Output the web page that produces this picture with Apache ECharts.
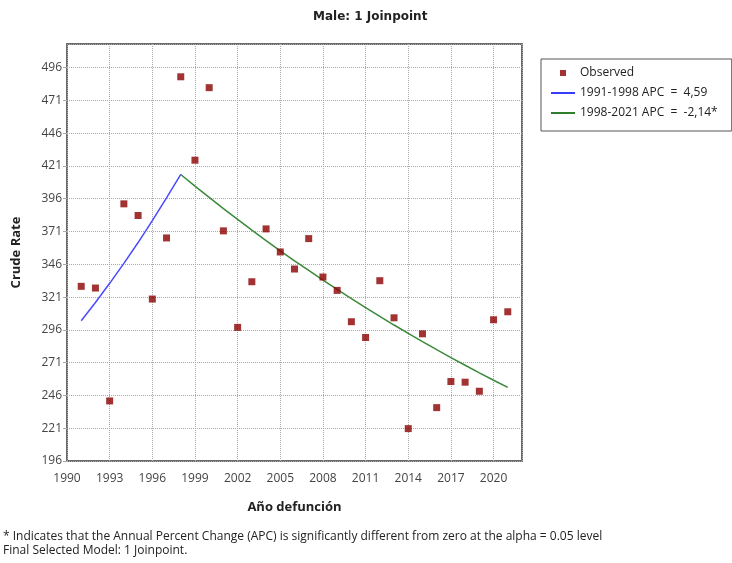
<!DOCTYPE html>
<html>
<head>
<meta charset="utf-8">
<script src="https://cdn.jsdelivr.net/npm/echarts@6/dist/echarts.min.js"></script>
<style>html,body{margin:0;padding:0;background:#fff}#c{width:732px;height:563px}</style>
</head>
<body>
<div id="c"></div>
<script>
// Observed crude rates by year
const years = [1991,1992,1993,1994,1995,1996,1997,1998,1999,2000,2001,2002,2003,2004,2005,2006,2007,2008,2009,2010,2011,2012,2013,2014,2015,2016,2017,2018,2019,2020,2021];
const observed = [329.2,327.9,241.8,392.1,383.2,319.5,366.1,489.0,425.4,480.7,371.5,297.9,332.7,373.0,355.4,342.4,365.6,336.3,326.1,302.2,290.2,333.5,305.2,220.7,293.0,236.7,256.6,256.1,249.2,303.7,309.8];
// Fitted segment 1 (1991-1998)
const seg1Years = [1991,1992,1993,1994,1995,1996,1997,1998];
const seg1Values = [303.0,316.9,331.5,346.7,362.6,379.3,396.7,414.5];
// Fitted segment 2 (1998-2021)
const seg2Years = [1998,1999,2000,2001,2002,2003,2004,2005,2006,2007,2008,2009,2010,2011,2012,2013,2014,2015,2016,2017,2018,2019,2020,2021];
const seg2Values = [414.5,405.6,397.0,388.5,380.2,372.1,364.1,356.3,348.7,341.3,334.0,326.8,319.8,313.0,306.3,299.7,293.3,287.0,280.9,274.9,269.0,263.2,257.6,252.1];
const seriesNames = ['Observed','1991-1998 APC  =  4,59','1998-2021 APC  =  -2,14*'];
const titleText = 'Male: 1 Joinpoint';
const xName = 'Año defunción';
const yName = 'Crude Rate';
const footnotes = ['* Indicates that the Annual Percent Change (APC) is significantly different from zero at the alpha = 0.05 level','Final Selected Model: 1 Joinpoint.'];

const font = '"Open Sans", "Noto Sans", sans-serif';
const lineIcon = 'path://M0,0H24V2H0Z';
const squareIcon = 'path://M0,0H6V6H0Z';
const chart = echarts.init(document.getElementById('c'));
chart.setOption({
  animation: false,
  backgroundColor: '#fff',
  title: {
    text: titleText, left: 308, top: 6,
    textStyle: {fontFamily: '"DejaVu Sans", sans-serif', fontWeight: 'bold', fontSize: 12, color: '#222'}
  },
  legend: {
    orient: 'vertical', left: 541, top: 59,
    padding: [8, 14, 12, 10], itemGap: 8, itemWidth: 24, itemHeight: 6,
    symbolKeepAspect: true,
    borderColor: '#555', borderWidth: 1,
    textStyle: {fontFamily: font, fontSize: 12, color: '#222'},
    data: [
      {name: seriesNames[0], icon: squareIcon},
      {name: seriesNames[1], icon: lineIcon},
      {name: seriesNames[2], icon: lineIcon}
    ]
  },
  grid: {left: 67, right: 210, top: 44, bottom: 102, show: true, borderColor: '#6a6a6a', borderWidth: 2, backgroundColor: '#fff'},
  xAxis: {
    type: 'value', min: 1990, max: 2022, interval: 3,
    name: xName, nameLocation: 'middle', nameGap: 40,
    nameTextStyle: {fontFamily: font, fontWeight: 'bold', fontSize: 13, color: '#222'},
    axisLine: {show: false}, axisTick: {show: false},
    axisLabel: {showMaxLabel: false, fontFamily: font, fontSize: 12, color: '#444', margin: 12, formatter: v => String(v)},
    splitLine: {lineStyle: {type: 'dotted', color: '#a8a8a8', width: 1}}
  },
  yAxis: {
    type: 'value', min: 196, max: 514, interval: 25,
    name: yName, nameLocation: 'middle', nameGap: 44, nameRotate: 90,
    nameTextStyle: {fontFamily: font, fontWeight: 'bold', fontSize: 13, color: '#222'},
    axisLine: {show: false},
    axisTick: {show: true, length: 4, lineStyle: {color: '#aaa'}},
    axisLabel: {showMaxLabel: false, fontFamily: font, fontSize: 12, color: '#444', margin: 5},
    splitLine: {lineStyle: {type: 'dotted', color: '#a8a8a8', width: 1}}
  },
  series: [
    {name: seriesNames[0], type: 'scatter', symbol: 'rect', symbolSize: 7,
     itemStyle: {color: '#8b0000'}, data: years.map((y, i) => [y, observed[i]]), z: 5},
    {name: seriesNames[1], type: 'line', symbol: 'none', showSymbol: false,
     lineStyle: {color: '#4a4aff', width: 1.5}, itemStyle: {color: '#3a3aff'},
     data: seg1Years.map((y, i) => [y, seg1Values[i]])},
    {name: seriesNames[2], type: 'line', symbol: 'none', showSymbol: false,
     lineStyle: {color: '#3a8a3a', width: 1.5}, itemStyle: {color: '#2f7f2f'},
     data: seg2Years.map((y, i) => [y, seg2Values[i]])}
  ],
  graphic: [
    {type: 'text', left: 3, top: 531, style: {text: footnotes[0], font: '12px ' + font, fill: '#222'}},
    {type: 'text', left: 3, top: 545, style: {text: footnotes[1], font: '12px ' + font, fill: '#222'}}
  ]
});
</script>
</body>
</html>
